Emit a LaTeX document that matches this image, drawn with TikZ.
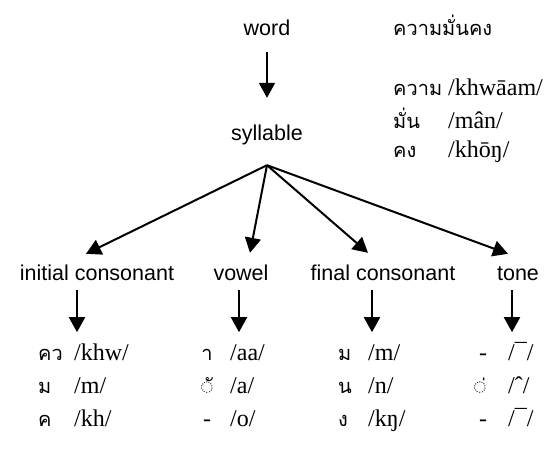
\documentclass[tikz,border=0pt]{standalone}
\usepackage{fontspec}
\setmainfont{Liberation Serif}
\newfontfamily\sansf{Liberation Sans}
\newfontfamily\thaif[Script=Thai]{Loma}
\usetikzlibrary{arrows.meta}
\begin{document}
\begin{tikzpicture}[x=1pt,y=-1pt,
  lab/.style={font=\sansf\fontsize{21.5}{24}\selectfont, inner sep=0pt, text height=16pt, text depth=5pt, anchor=base},
  th/.style={font=\thaif\fontsize{20}{24}\selectfont, inner sep=0pt, anchor=base west},
  thc/.style={font=\thaif\fontsize{20}{24}\selectfont, inner sep=0pt, anchor=base},
  tr/.style={font=\fontsize{24}{26}\selectfont, inner sep=0pt, anchor=base west},
  arr/.style={line width=2pt, -{Triangle[length=15pt,width=16pt]}}]
\useasboundingbox (0,0) rectangle (560,453);
% tree labels
\node[lab] (word) at (267,35) {word};
\node[lab] (syl) at (267,140) {syllable};
\node[lab] (ic) at (97,280) {initial consonant};
\node[lab] (vw) at (241,280) {vowel};
\node[lab] (fc) at (383,280) {final consonant};
\node[lab] (tn) at (518,280) {tone};
% right column
\node[th] (w0) at (393,35) {ความมั่นคง};
\node[th] (w1) at (393,95) {ความ};
\node[tr] (w1t) at (448,95) {/khwāam/};
\node[th] (w2) at (393,128) {มั่น};
\node[tr] (w2t) at (448,128) {/mân/};
\node[th] (w3) at (393,157) {คง};
\node[tr] (w3t) at (448,157) {/khōŋ/};
% arrows
\draw[arr] ([yshift=-12pt]word.south) -- ([yshift=26pt]syl.north);
\coordinate (apex) at ([yshift=-20pt]syl.south);
\draw[arr] (apex) -- ([shift={(-11pt,10pt)}]ic.north);
\draw[arr] (apex) -- ([shift={(9pt,11pt)}]vw.north);
\draw[arr] (apex) -- ([shift={(-15pt,11pt)}]fc.north);
\draw[arr] (apex) -- ([shift={(-10pt,10pt)}]tn.north);
\draw[arr] ([shift={(-20pt,-5pt)}]ic.south) -- ++(0,42);
\draw[arr] ([shift={(-2pt,-5pt)}]vw.south) -- ++(0,42);
\draw[arr] ([shift={(-11pt,-5pt)}]fc.south) -- ++(0,42);
\draw[arr] ([shift={(-6pt,-5pt)}]tn.south) -- ++(0,42);
% column 1
\node[th] (a1) at (38,360) {คว};
\node[tr] (a1t) at (74,360) {/khw/};
\node[th] (a2) at (38,393) {ม};
\node[tr] (a2t) at (74,393) {/m/};
\node[th] (a3) at (38,426) {ค};
\node[tr] (a3t) at (74,426) {/kh/};
% column 2
\node[thc] (b1) at (207,360) {า};
\node[tr] (b1t) at (230,360) {/aa/};
\node[thc] (b2) at (207,393) {◌ั};
\node[tr] (b2t) at (230,393) {/a/};
\node[tr, anchor=base] (b3) at (207,426) {-};
\node[tr] (b3t) at (230,426) {/o/};
% column 3
\node[th] (c1) at (338,360) {ม};
\node[tr] (c1t) at (368,360) {/m/};
\node[th] (c2) at (338,393) {น};
\node[tr] (c2t) at (368,393) {/n/};
\node[th] (c3) at (338,426) {ง};
\node[tr] (c3t) at (368,426) {/kŋ/};
% column 4
\node[tr, anchor=base] (d1) at (483,360) {-};
\node[tr] (d1t) at (508,360) {/¯/};
\node[thc] (d2) at (480,393) {◌่};
\node[tr] (d2t) at (508,393) {/ˆ/};
\node[tr, anchor=base] (d3) at (483,426) {-};
\node[tr] (d3t) at (508,426) {/¯/};
\end{tikzpicture}
\end{document}
